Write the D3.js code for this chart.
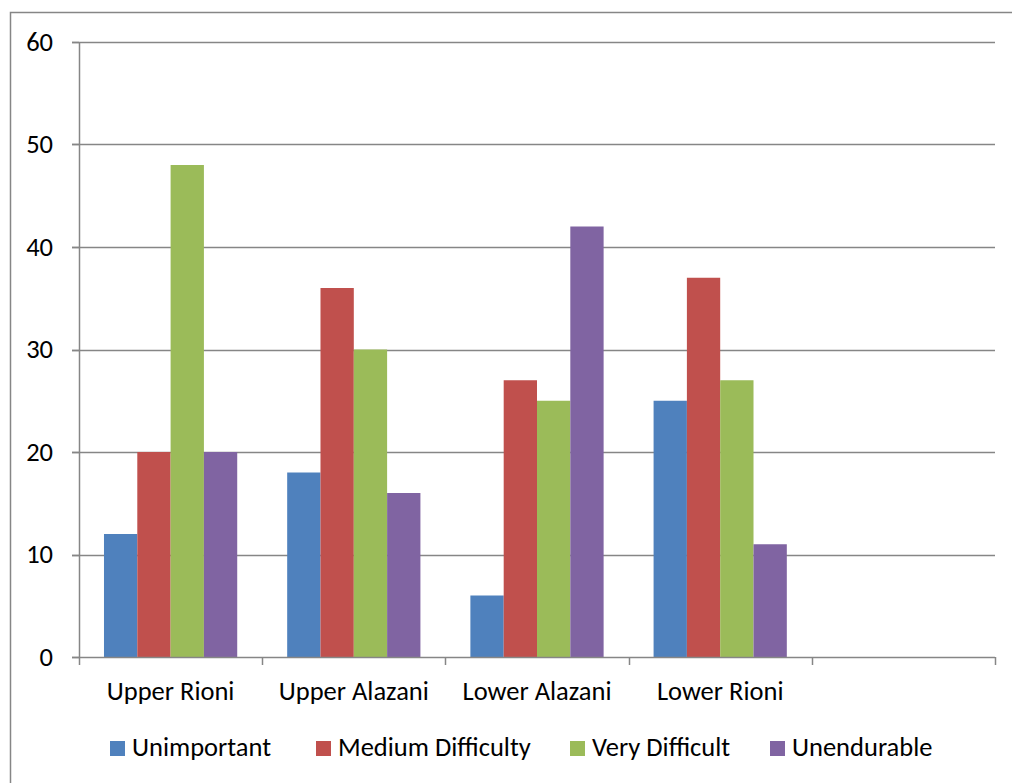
<!DOCTYPE html>
<html>
<head>
<meta charset="utf-8">
<script src="https://cdn.jsdelivr.net/npm/d3@7"></script>
<style>
  body { margin: 0; background: #fff; }
  text { font-family: Carlito, "Open Sans", sans-serif; fill: #000; }
</style>
</head>
<body>
<div id="chart"></div>
<script>
// data
const categories = ["Upper Rioni", "Upper Alazani", "Lower Alazani", "Lower Rioni", ""];
const seriesNames = ["Unimportant", "Medium Difficulty", "Very Difficult", "Unendurable"];
const unimportant = [12, 18, 6, 25];
const medium = [20, 36, 27, 37];
const veryDifficult = [48, 30, 25, 27];
const unendurable = [20, 16, 42, 11];
const yTicks = [0, 10, 20, 30, 40, 50, 60];

const colors = ["#4F81BD", "#C0504D", "#9BBB59", "#8064A2"];
const seriesValues = [unimportant, medium, veryDifficult, unendurable];

const W = 1012, H = 783;
const plotLeft = 79, plotRight = 995, plotTop = 42, plotBottom = 657;
const gridColor = "#868686";
const fontSize = 26.5;

const svg = d3.select("#chart").append("svg")
    .attr("width", W)
    .attr("height", H);

// chart frame (runs off the right/bottom of the picture)
svg.append("rect")
    .attr("x", 10.5).attr("y", 12.5)
    .attr("width", W + 20).attr("height", H + 20)
    .attr("fill", "none")
    .attr("stroke", gridColor)
    .attr("stroke-width", 1.5);

const y = d3.scaleLinear().domain([0, 60]).range([plotBottom, plotTop]);
const x = d3.scaleBand().domain(categories).range([plotLeft, plotRight]).paddingInner(0).paddingOuter(0);
const xs = d3.scaleBand().domain(d3.range(seriesNames.length)).range([0, x.bandwidth()])
    .paddingInner(0).paddingOuter(0.75);

// gridlines
svg.append("g").selectAll("line")
    .data(yTicks.filter(d => d > 0))
    .enter().append("line")
    .attr("x1", plotLeft - 7).attr("x2", plotRight)
    .attr("y1", d => Math.round(y(d)) + 0.5)
    .attr("y2", d => Math.round(y(d)) + 0.5)
    .attr("stroke", gridColor)
    .attr("stroke-width", 1.3);

// bars
const rows = categories.slice(0, 4).map((c, i) => ({cat: c, vals: seriesValues.map(s => s[i])}));
const groups = svg.append("g").selectAll("g")
    .data(rows)
    .enter().append("g")
    .attr("transform", d => "translate(" + x(d.cat) + ",0)");

groups.selectAll("rect")
    .data(d => d.vals)
    .enter().append("rect")
    .attr("x", (d, i) => xs(i))
    .attr("width", xs.bandwidth())
    .attr("y", d => y(d))
    .attr("height", d => y(0) - y(d))
    .attr("fill", (d, i) => colors[i]);

// y axis
const yAxis = svg.append("g");
yAxis.append("line")
    .attr("x1", plotLeft + 0.5).attr("x2", plotLeft + 0.5)
    .attr("y1", plotTop).attr("y2", plotBottom)
    .attr("stroke", gridColor).attr("stroke-width", 1.5);
yAxis.selectAll("line.tick")
    .data(yTicks)
    .enter().append("line")
    .attr("class", "tick")
    .attr("x1", plotLeft - 7).attr("x2", plotLeft)
    .attr("y1", d => Math.round(y(d)) + 0.5)
    .attr("y2", d => Math.round(y(d)) + 0.5)
    .attr("stroke", gridColor).attr("stroke-width", 1.5);
yAxis.selectAll("text")
    .data(yTicks)
    .enter().append("text")
    .attr("x", 53)
    .attr("y", d => y(d))
    .attr("dy", "0.33em")
    .attr("text-anchor", "end")
    .attr("font-size", fontSize)
    .text(d => d);

// x axis
const xAxis = svg.append("g");
xAxis.append("line")
    .attr("x1", plotLeft - 7).attr("x2", plotRight)
    .attr("y1", plotBottom + 0.5).attr("y2", plotBottom + 0.5)
    .attr("stroke", gridColor).attr("stroke-width", 1.5);
const bounds = categories.map(c => x(c)).concat([plotRight]);
xAxis.selectAll("line.tick")
    .data(bounds)
    .enter().append("line")
    .attr("class", "tick")
    .attr("x1", d => Math.round(d) + 0.5).attr("x2", d => Math.round(d) + 0.5)
    .attr("y1", plotBottom).attr("y2", plotBottom + 8)
    .attr("stroke", gridColor).attr("stroke-width", 1.5);
xAxis.selectAll("text")
    .data(categories)
    .enter().append("text")
    .attr("x", d => x(d) + x.bandwidth() / 2)
    .attr("y", 700)
    .attr("text-anchor", "middle")
    .attr("font-size", fontSize)
    .text(d => d);

// legend
const legendX = [110, 316, 570, 770];
const legend = svg.append("g").selectAll("g")
    .data(seriesNames)
    .enter().append("g")
    .attr("transform", (d, i) => "translate(" + legendX[i] + ",741)");
legend.append("rect")
    .attr("width", 15).attr("height", 15)
    .attr("fill", (d, i) => colors[i]);
legend.append("text")
    .attr("x", 22).attr("y", 15)
    .attr("font-size", fontSize)
    .text(d => d);
</script>
</body>
</html>
